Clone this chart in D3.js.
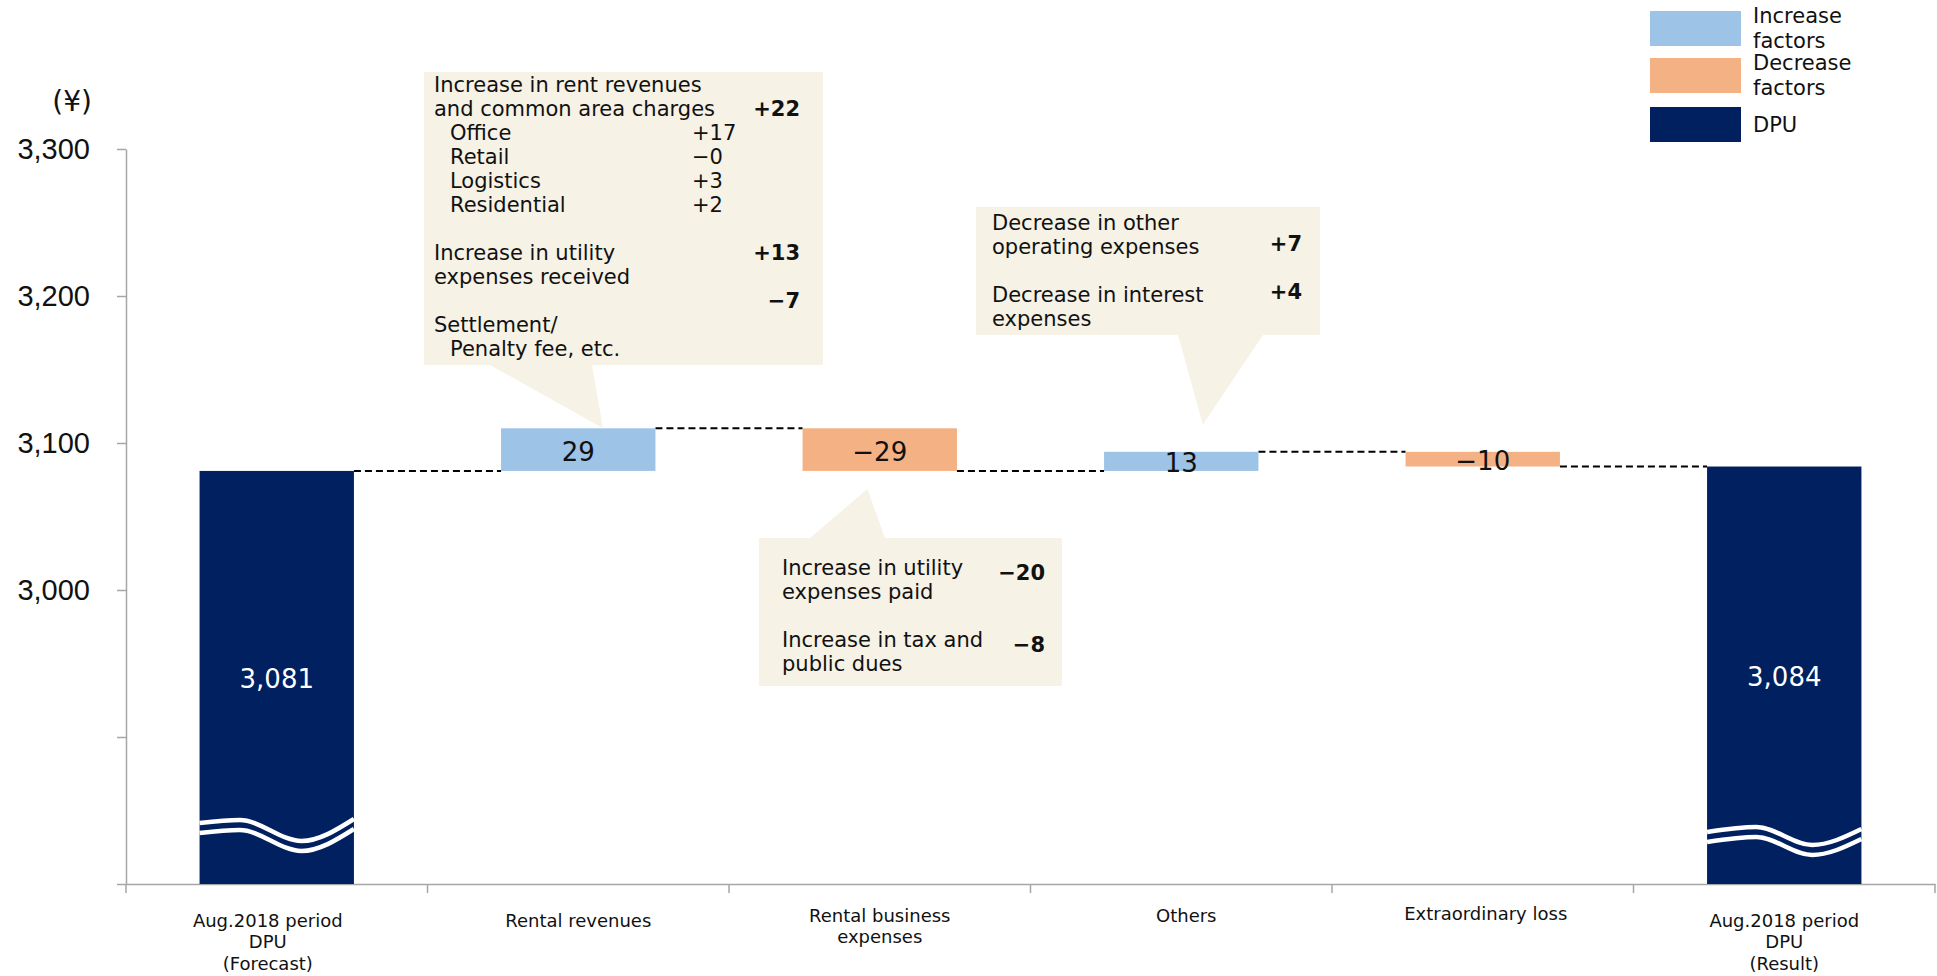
<!DOCTYPE html>
<html>
<head>
  <meta charset="UTF-8">
  <title>DPU variance</title>
  <style>
    body { margin: 0; background: #fff; }
    svg { display: block; font-family: "DejaVu Sans", Verdana, sans-serif; }
    .axis path, .axis line { stroke: #a6a6a6; stroke-width: 1.5; }
  </style>
</head>
<body>
  <svg id="chart" width="1937" height="976"></svg>

  <script src="https://d3js.org/d3.v7.min.js"></script>
  <script>
    // chart data
    var categories = ["forecast", "rent", "expenses", "others", "extra", "result"];
    var categoryLines = [
      ["Aug.2018 period", "DPU", "(Forecast)"],
      ["Rental revenues"],
      ["Rental business", "expenses"],
      ["Others"],
      ["Extraordinary loss"],
      ["Aug.2018 period", "DPU", "(Result)"]
    ];
    var values = [3081, 29, -29, 13, -10, 3084];
    var kinds = ["total", "inc", "dec", "inc", "dec", "total"];
    var valueLabels = ["3,081", "29", "\u221229", "13", "\u221210", "3,084"];
    var yTicks = [2800, 2900, 3000, 3100, 3200, 3300];
    var yLabeled = [3000, 3100, 3200, 3300];

    var legendNames = [["Increase", "factors"], ["Decrease", "factors"], ["DPU"]];
    var legendKinds = ["inc", "dec", "total"];

    // callout texts
    var rentLines = ["Increase in rent revenues", "and common area charges", "Office", "Retail",
      "Logistics", "Residential", "", "Increase in utility", "expenses received", "",
      "Settlement/", "Penalty fee, etc."];
    var rentSubValues = ["", "", "+17", "\u22120", "+3", "+2", "", "", "", "", "", ""];
    var rentValues = ["", "+22", "", "", "", "", "", "+13", "", "\u22127", "", ""];
    var othersLines = ["Decrease in other", "operating expenses", "", "Decrease in interest", "expenses"];
    var othersValues = ["", "+7", "", "+4", ""];
    var expLines = ["Increase in utility", "expenses paid", "", "Increase in tax and", "public dues"];
    var expValues = ["\u221220", "", "", "\u22128", ""];

    var colors = { inc: "#9dc3e6", dec: "#f4b183", total: "#002060" };

    var svg = d3.select("#chart");
    var plotLeft = 126, plotRight = 1935, plotTop = 149, plotBottom = 884;

    var x = d3.scaleBand().domain(categories).range([plotLeft, plotRight]).padding(0);
    var barW = x.bandwidth() * 0.512;
    var barX = function(c) { return x(c) + (x.bandwidth() - barW) / 2; };
    var y = d3.scaleLinear().domain([2800, 3300]).range([plotBottom, plotTop]);

    // running totals for the waterfall
    var bars = [];
    var running = 0;
    for (var i = 0; i < categories.length; i++) {
      var b = { cat: categories[i], kind: kinds[i], label: valueLabels[i] };
      if (kinds[i] == "total") {
        b.y0 = 2800; b.y1 = values[i]; running = values[i];
      } else {
        b.y0 = running; b.y1 = running + values[i]; running = b.y1;
      }
      b.end = running;
      bars.push(b);
    }

    // axes
    svg.append("g")
      .attr("class", "axis")
      .attr("transform", "translate(" + plotLeft + ",0)")
      .call(d3.axisLeft(y).tickValues(yTicks).tickSize(9).tickSizeOuter(0).tickPadding(27)
        .tickFormat(function(d) { return yLabeled.indexOf(d) >= 0 ? d3.format(",")(d) : ""; }))
      .call(function(g) {
        g.selectAll("text").attr("font-size", 29).attr("fill", "#111").attr("font-family", null);
      });

    var xAxis = svg.append("g")
      .attr("class", "axis")
      .attr("transform", "translate(0," + plotBottom + ")")
      .call(d3.axisBottom(x).tickSize(0).tickSizeOuter(0).tickFormat(""));
    xAxis.selectAll(".bound")
      .data(categories.map(function(c) { return x(c); }).concat([plotRight]))
      .enter().append("line")
        .attr("x1", function(d) { return d; }).attr("x2", function(d) { return d; })
        .attr("y1", 0).attr("y2", 9);

    svg.append("text")
      .attr("x", 92).attr("y", 101)
      .attr("text-anchor", "end").attr("dominant-baseline", "central")
      .attr("font-size", 28).attr("fill", "#111")
      .text("(\u00a5)");

    // category labels
    var catShift = [-9, 0, 0, 5, 3, 0];
    var catY = [920, 920, 915, 915, 913, 920];
    var catText = svg.selectAll(".cat")
      .data(categoryLines)
      .enter().append("text")
        .attr("class", "cat")
        .attr("text-anchor", "middle")
        .attr("font-size", 18)
        .attr("fill", "#111");
    catText.each(function(lines, i) {
      var t = d3.select(this);
      lines.forEach(function(l, k) {
        t.append("tspan")
          .attr("x", x(categories[i]) + x.bandwidth() / 2 + catShift[i])
          .attr("y", catY[i] + k * 21.5)
          .attr("dominant-baseline", "central")
          .text(l);
      });
    });

    // connectors
    svg.selectAll(".conn")
      .data(bars.slice(0, -1))
      .enter().append("line")
        .attr("x1", function(d) { return barX(d.cat) + barW; })
        .attr("x2", function(d, i) { return barX(categories[i + 1]); })
        .attr("y1", function(d) { return y(d.end); })
        .attr("y2", function(d) { return y(d.end); })
        .attr("stroke", "#000")
        .attr("stroke-width", 2)
        .attr("stroke-dasharray", "7,4");

    // bars
    svg.selectAll(".bar")
      .data(bars)
      .enter().append("rect")
        .attr("x", function(d) { return barX(d.cat); })
        .attr("width", barW)
        .attr("y", function(d) { return y(Math.max(d.y0, d.y1)); })
        .attr("height", function(d) { return Math.abs(y(d.y0) - y(d.y1)); })
        .attr("fill", function(d) { return colors[d.kind]; });

    svg.selectAll(".vlab")
      .data(bars)
      .enter().append("text")
        .attr("x", function(d) { return barX(d.cat) + barW / 2; })
        .attr("y", function(d) { return (y(d.y0) + y(d.y1)) / 2 + 2; })
        .attr("text-anchor", "middle")
        .attr("dominant-baseline", "central")
        .attr("font-size", 26)
        .attr("fill", function(d) { return d.kind == "total" ? "#fff" : "#111"; })
        .text(function(d) { return d.label; });

    // axis break waves on the DPU bars
    var waves = [
      { cat: "forecast", base: 820, pts: [[0, 3], [0.26, 0], [0.66, 21], [1, -1]] },
      { cat: "result", base: 827, pts: [[0, 5], [0.32, 0], [0.68, 18], [1, 2]] }
    ];
    var waveLine = d3.line().curve(d3.curveMonotoneX);
    waves.forEach(function(w) {
      [0, 10].forEach(function(off) {
        svg.append("path")
          .attr("d", waveLine(w.pts.map(function(p) {
            return [barX(w.cat) + p[0] * barW, w.base + p[1] + off];
          })))
          .attr("fill", "none")
          .attr("stroke", "#fff")
          .attr("stroke-width", 4.5);
      });
    });

    // callouts
    function callout(box, tip, base, lines, vals, subValues, opt) {
      var p;
      if (base.side == "bottom") {
        p = [[box.x0, box.y0], [box.x1, box.y0], [box.x1, box.y1], [base.b1, box.y1], tip, [base.b0, box.y1], [box.x0, box.y1]];
      } else {
        p = [[box.x0, box.y0], [base.b0, box.y0], tip, [base.b1, box.y0], [box.x1, box.y0], [box.x1, box.y1], [box.x0, box.y1]];
      }
      svg.append("path")
        .attr("d", "M" + p.join("L") + "Z")
        .attr("fill", "#f6f2e6");
      var g = svg.append("g").attr("font-size", 21).attr("fill", "#111");
      lines.forEach(function(l, k) {
        var ty = opt.y + k * 24;
        if (l) {
          g.append("text")
            .attr("x", opt.tx + ((opt.indent || []).indexOf(k) >= 0 ? 16 : 0))
            .attr("y", ty)
            .attr("dominant-baseline", "central")
            .text(l);
        }
        if (subValues && subValues[k]) {
          g.append("text")
            .attr("x", opt.sx).attr("y", ty)
            .attr("dominant-baseline", "central")
            .text(subValues[k]);
        }
        if (vals[k]) {
          g.append("text")
            .attr("x", opt.vx).attr("y", ty + (opt.vdy || 0))
            .attr("text-anchor", "end")
            .attr("dominant-baseline", "central")
            .attr("font-weight", "bold")
            .text(vals[k]);
        }
      });
    }

    callout({ x0: 424, x1: 823, y0: 72, y1: 365 },
      [barX("rent") + barW * 0.66, y(bars[1].y1)],
      { side: "bottom", b0: 490, b1: 592 },
      rentLines, rentValues, rentSubValues,
      { tx: 434, y: 85, sx: 692, vx: 800, indent: [2, 3, 4, 5, 11] });

    callout({ x0: 976, x1: 1320, y0: 207, y1: 335 },
      [barX("others") + barW * 0.64, y(bars[3].y1) - 27],
      { side: "bottom", b0: 1178, b1: 1263 },
      othersLines, othersValues, null,
      { tx: 992, y: 223, vx: 1302, vdy: -3 });

    callout({ x0: 759, x1: 1062, y0: 538, y1: 686 },
      [barX("expenses") + barW * 0.42, y(bars[2].y1) + 18],
      { side: "top", b0: 810, b1: 885 },
      expLines, expValues, null,
      { tx: 782, y: 568, vx: 1045, vdy: 5 });

    // legend
    var legY = [11, 58, 107];
    var leg = svg.selectAll(".leg")
      .data(legendKinds)
      .enter().append("g")
        .attr("transform", function(d, i) { return "translate(1650," + legY[i] + ")"; });
    leg.append("rect")
      .attr("width", 91).attr("height", 35)
      .attr("fill", function(d) { return colors[d]; });
    leg.append("text")
      .attr("font-size", 21).attr("fill", "#111")
      .each(function(d, i) {
        var t = d3.select(this);
        var lines = legendNames[i];
        lines.forEach(function(l, k) {
          t.append("tspan")
            .attr("x", 103)
            .attr("y", 17.5 + (k - (lines.length - 1) / 2) * 25)
            .attr("dominant-baseline", "central")
            .text(l);
        });
      });
  </script>
</body>
</html>
